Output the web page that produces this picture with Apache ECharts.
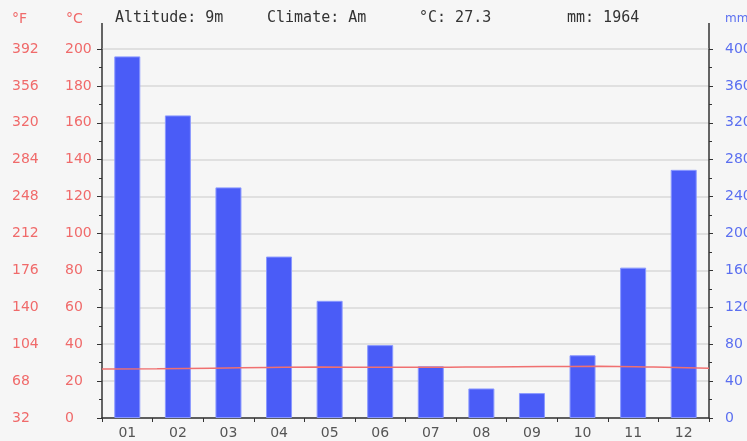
<!DOCTYPE html>
<html>
<head>
<meta charset="utf-8">
<script src="https://cdn.jsdelivr.net/npm/echarts@6/dist/echarts.min.js"></script>
<style>
html,body{margin:0;padding:0;background:#f6f6f6;}
#chart{width:747px;height:441px;}
</style>
</head>
<body>
<div id="chart"></div>
<script>
// ---- data ----
const months = ['01','02','03','04','05','06','07','08','09','10','11','12'];
const precipitation = [392, 328, 250, 175, 127, 79, 56, 32, 27, 68, 163, 269]; // mm
const temperature = [26.6, 26.7, 27.0, 27.4, 27.6, 27.5, 27.5, 27.7, 27.9, 28.0, 27.6, 26.9]; // °C
const altitude = '9m';
const climate = 'Am';
const avgTemp = '27.3';
const totalPrecip = '1964';

// ---- layout/style ----
const G = {left: 102, right: 38, top: 49, bottom: 23};
const W = 747, H = 441;
const red = '#f06a6a';
const blue = '#5b6ff0';
const axisCol = '#333';
const font = 'DejaVu Sans';
const mono = 'DejaVu Sans Mono';

const chart = echarts.init(document.getElementById('chart'), null, {renderer: 'canvas'});

const option = {
  backgroundColor: '#f6f6f6',
  animation: false,
  grid: {left: G.left, right: G.right, top: G.top, bottom: G.bottom, containLabel: false, outerBoundsMode: 'none'},
  xAxis: [
    {
      type: 'category', data: months, boundaryGap: true,
      axisLine: {show: true, lineStyle: {color: axisCol, width: 1.5}},
      axisTick: {show: true, length: 4, inside: false, lineStyle: {color: axisCol}},
      axisLabel: {color: '#555', fontFamily: font, fontSize: 14, margin: 8},
      splitLine: {show: false}
    },
    {
      type: 'category', data: months, boundaryGap: false, show: false
    }
  ],
  yAxis: [
    {
      type: 'value', position: 'left', min: 0, max: 200, interval: 20,
      axisLine: {show: true, lineStyle: {color: axisCol, width: 1.5}},
      axisTick: {show: true, length: 5, lineStyle: {color: axisCol}},
      minorTick: {show: true, splitNumber: 2, length: 3, lineStyle: {color: axisCol}},
      splitLine: {show: true, lineStyle: {color: '#d9d9d9', width: 1.5}},
      axisLabel: {color: red, fontFamily: font, fontSize: 14, align: 'left', margin: 37}
    },
    {
      type: 'value', position: 'left', min: 32, max: 392, interval: 36,
      axisLine: {show: false}, axisTick: {show: false}, splitLine: {show: false},
      axisLabel: {color: red, fontFamily: font, fontSize: 14, align: 'left', margin: 90}
    },
    {
      type: 'value', position: 'right', min: 0, max: 400, interval: 40,
      axisLine: {show: true, lineStyle: {color: axisCol, width: 1.5}},
      axisTick: {show: true, length: 4, lineStyle: {color: axisCol}},
      minorTick: {show: true, splitNumber: 2, length: 3, lineStyle: {color: axisCol}},
      splitLine: {show: false},
      axisLabel: {color: blue, fontFamily: font, fontSize: 14, align: 'left', margin: 16}
    }
  ],
  series: [
    {
      type: 'bar', data: precipitation, xAxisIndex: 0, yAxisIndex: 2,
      barWidth: 26,
      itemStyle: {color: '#4a5cf7', borderColor: '#8a98ff', borderWidth: 1}
    },
    {
      type: 'line', data: temperature, xAxisIndex: 1, yAxisIndex: 0,
      smooth: true, symbol: 'none',
      lineStyle: {color: '#f07070', width: 1.5}
    }
  ],
  graphic: [
    {type: 'line', shape: {x1: G.left, y1: 23, x2: G.left, y2: G.top}, style: {stroke: axisCol, lineWidth: 1.5}},
    {type: 'line', shape: {x1: W - G.right, y1: 23, x2: W - G.right, y2: G.top}, style: {stroke: axisCol, lineWidth: 1.5}},
    {type: 'text', left: 12, top: 12, style: {text: '°F', fill: red, font: '14px ' + font}},
    {type: 'text', left: 66, top: 12, style: {text: '°C', fill: red, font: '14px ' + font}},
    {type: 'text', left: 115, top: 11, style: {text: 'Altitude: ' + altitude, fill: '#333', font: '15px ' + mono}},
    {type: 'text', left: 267, top: 11, style: {text: 'Climate: ' + climate, fill: '#333', font: '15px ' + mono}},
    {type: 'text', left: 419, top: 11, style: {text: '°C: ' + avgTemp, fill: '#333', font: '15px ' + mono}},
    {type: 'text', left: 567, top: 11, style: {text: 'mm: ' + totalPrecip, fill: '#333', font: '15px ' + mono}},
    {type: 'text', left: 725, top: 13, style: {text: 'mm', fill: blue, font: '12px ' + font}}
  ]
};
chart.setOption(option);
</script>
</body>
</html>
